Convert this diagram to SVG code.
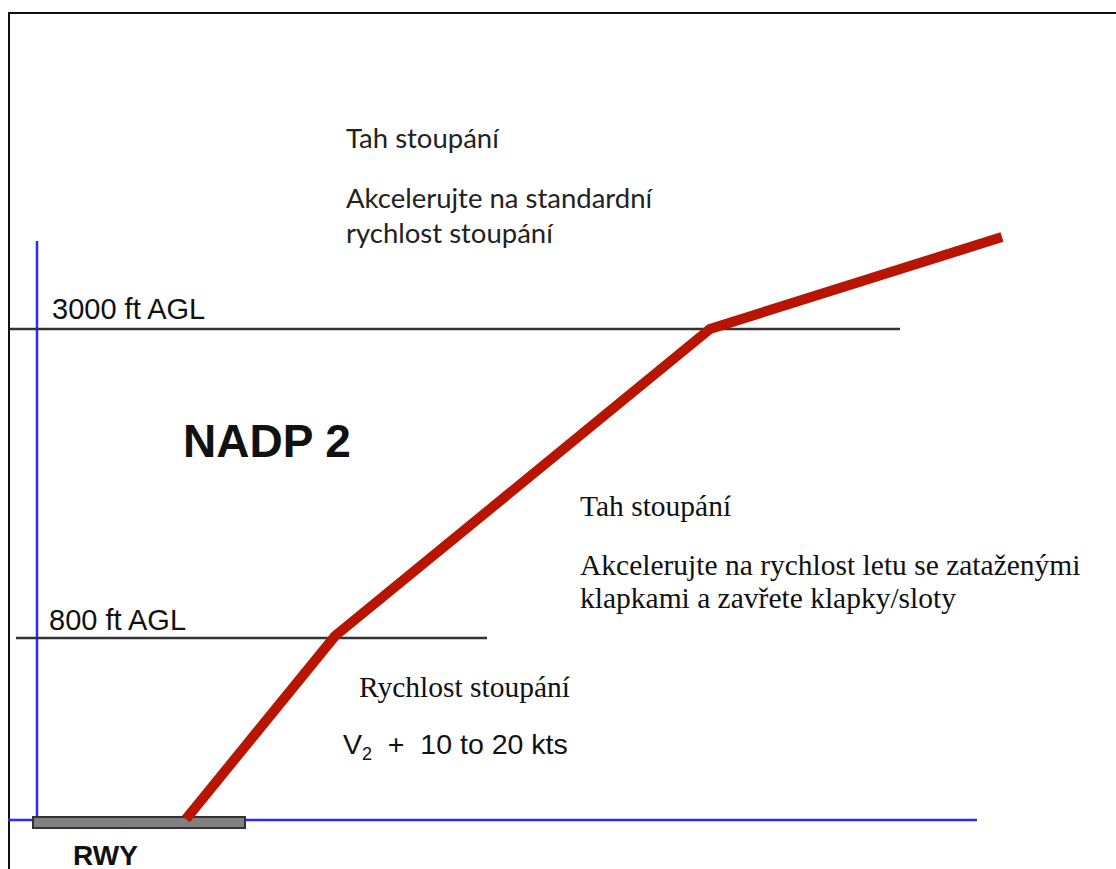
<svg xmlns="http://www.w3.org/2000/svg" width="1116" height="869" viewBox="0 0 1116 869">
  <style>
    .axis { stroke: #2a2aff; stroke-width: 2.5; fill: none; }
    .level { stroke: #333; stroke-width: 2.5; fill: none; }
    .arial { font-family: "Liberation Sans", Arial, sans-serif; fill: #111; }
    .bold { font-weight: bold; }
    .serif { font-family: "Liberation Serif", "Times New Roman", serif; fill: #111; font-size: 29.5px; }
    .calibri { font-family: Lato, "Open Sans", sans-serif; fill: #222; font-size: 27.5px; }
    .path { stroke: #b81400; stroke-width: 10; fill: none; stroke-linejoin: miter; stroke-linecap: butt; }
  </style>
  <rect width="1116" height="869" fill="#fff"/>
  <!-- page frame -->
  <rect x="9" y="13" width="1120" height="870" fill="none" stroke="#111" stroke-width="2"/>

  <!-- axes -->
  <g id="axes">
    <line class="axis" x1="37" y1="241" x2="37" y2="820"/>
    <line class="axis" x1="8" y1="820" x2="977" y2="820"/>
  </g>

  <!-- altitude levels -->
  <g id="level-3000">
    <line class="level" x1="10" y1="329" x2="900" y2="329"/>
    <text class="arial" x="52" y="319" font-size="29">3000 ft AGL</text>
  </g>
  <g id="level-800">
    <line class="level" x1="16" y1="638" x2="487" y2="638"/>
    <text class="arial" x="49" y="630" font-size="29">800 ft AGL</text>
  </g>

  <!-- runway -->
  <g id="runway">
    <rect x="33" y="817" width="212" height="11" fill="#808080" stroke="#333" stroke-width="2"/>
    <text class="arial bold" x="73" y="865" font-size="28">RWY</text>
  </g>

  <!-- title -->
  <g id="title">
    <text class="arial bold" x="183" y="457" font-size="46">NADP 2</text>
  </g>

  <!-- climb profile -->
  <g id="connectors">
    <polyline class="path" points="186,819 335,636 710,329 1002,237"/>
  </g>

  <!-- segment notes -->
  <g id="segment-upper">
    <text class="calibri" x="346" y="148">Tah stoupání</text>
    <text class="calibri" x="346" y="208">Akcelerujte na standardní</text>
    <text class="calibri" x="346" y="243">rychlost stoupání</text>
  </g>
  <g id="segment-middle">
    <text class="serif" x="580" y="516">Tah stoupání</text>
    <text class="serif" x="580" y="575">Akcelerujte na rychlost letu se zataženými</text>
    <text class="serif" x="580" y="608">klapkami a zavřete klapky/sloty</text>
  </g>
  <g id="segment-lower">
    <text class="serif" x="359" y="697">Rychlost stoupání</text>
    <text class="arial" x="343" y="754" font-size="28.5">V<tspan font-size="18" dy="6">2</tspan><tspan dy="-6" xml:space="preserve">  +  10 to 20 kts</tspan></text>
  </g>
</svg>
